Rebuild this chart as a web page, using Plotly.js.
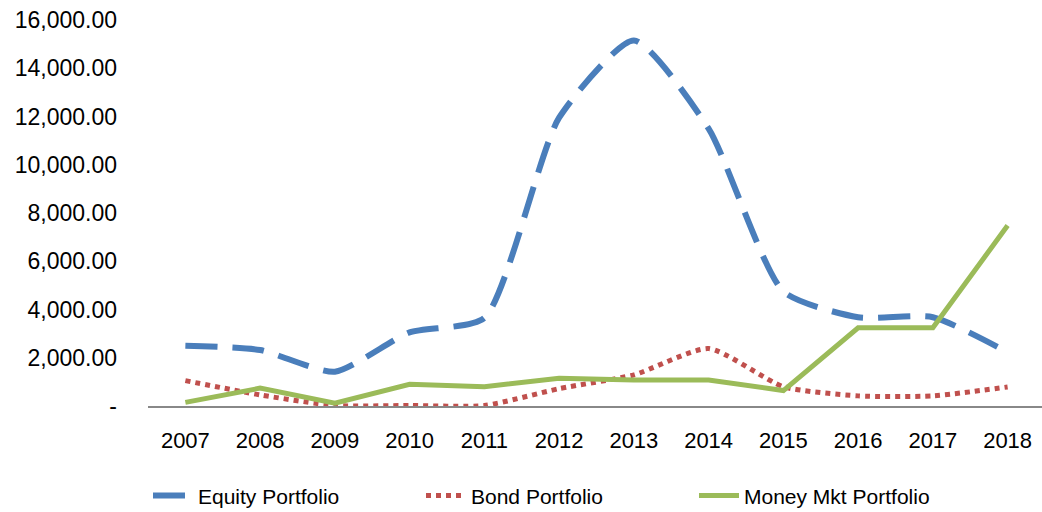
<!DOCTYPE html>
<html>
<head>
<meta charset="utf-8">
<script src="https://cdn.plot.ly/plotly-3.0.1.min.js"></script>
<style>html,body{margin:0;padding:0;background:#fff;}#chart{width:1042px;height:512px;}</style>
</head>
<body>
<div id="chart"></div>
<script>
const years = ["2007","2008","2009","2010","2011","2012","2013","2014","2015","2016","2017","2018"];
const equity = [2500, 2320, 1420, 3050, 3650, 11950, 15150, 11500, 4750, 3680, 3680, 2230];
const bond = [1050, 460, 20, 20, 20, 720, 1290, 2380, 800, 420, 420, 790];
const moneyMkt = [150, 740, 120, 900, 800, 1150, 1080, 1080, 640, 3240, 3240, 7480];
const yTickVals = [0, 2000, 4000, 6000, 8000, 10000, 12000, 14000, 16000];
const yTickText = ["-", "2,000.00", "4,000.00", "6,000.00", "8,000.00", "10,000.00", "12,000.00", "14,000.00", "16,000.00"];

const font = "'Liberation Sans', Arial, sans-serif";
const traces = [
  {x: years, y: equity, name: "Equity Portfolio", mode: "lines",
   line: {color: "#4A7EBB", width: 6, dash: "32px,15px", shape: "spline", smoothing: 0.6}},
  {x: years, y: bond, name: "Bond Portfolio", mode: "lines",
   line: {color: "#C0504D", width: 5, dash: "dot", shape: "spline", smoothing: 0.6}},
  {x: years, y: moneyMkt, name: "Money Mkt Portfolio", mode: "lines",
   line: {color: "#9BBB59", width: 5, shape: "linear"}}
];
const layout = {
  width: 1042, height: 512,
  margin: {l: 148, r: 0, t: 20, b: 106, autoexpand: false},
  paper_bgcolor: "#fff", plot_bgcolor: "#fff",
  font: {family: font, color: "#000", size: 22},
  showlegend: true,
  legend: {orientation: "h", x: 0.0, xanchor: "left", y: -0.233, yanchor: "middle",
           entrywidth: 218, entrywidthmode: "pixels", itemwidth: 40,
           font: {size: 21, family: font}},
  xaxis: {type: "category", range: [-0.5, 11.46], showgrid: false, zeroline: false,
          showline: true, linecolor: "#888", linewidth: 1.5, ticks: "",
          tickfont: {size: 22}, ticklabelstandoff: 14, fixedrange: true},
  yaxis: {range: [0, 16000], tickvals: yTickVals, ticktext: yTickText, showgrid: false,
          zeroline: false, showline: false, ticks: "", tickfont: {size: 23},
          ticklabelstandoff: 30, fixedrange: true}
};
Plotly.newPlot("chart", traces, layout, {displayModeBar: false, staticPlot: true});
</script>
</body>
</html>
